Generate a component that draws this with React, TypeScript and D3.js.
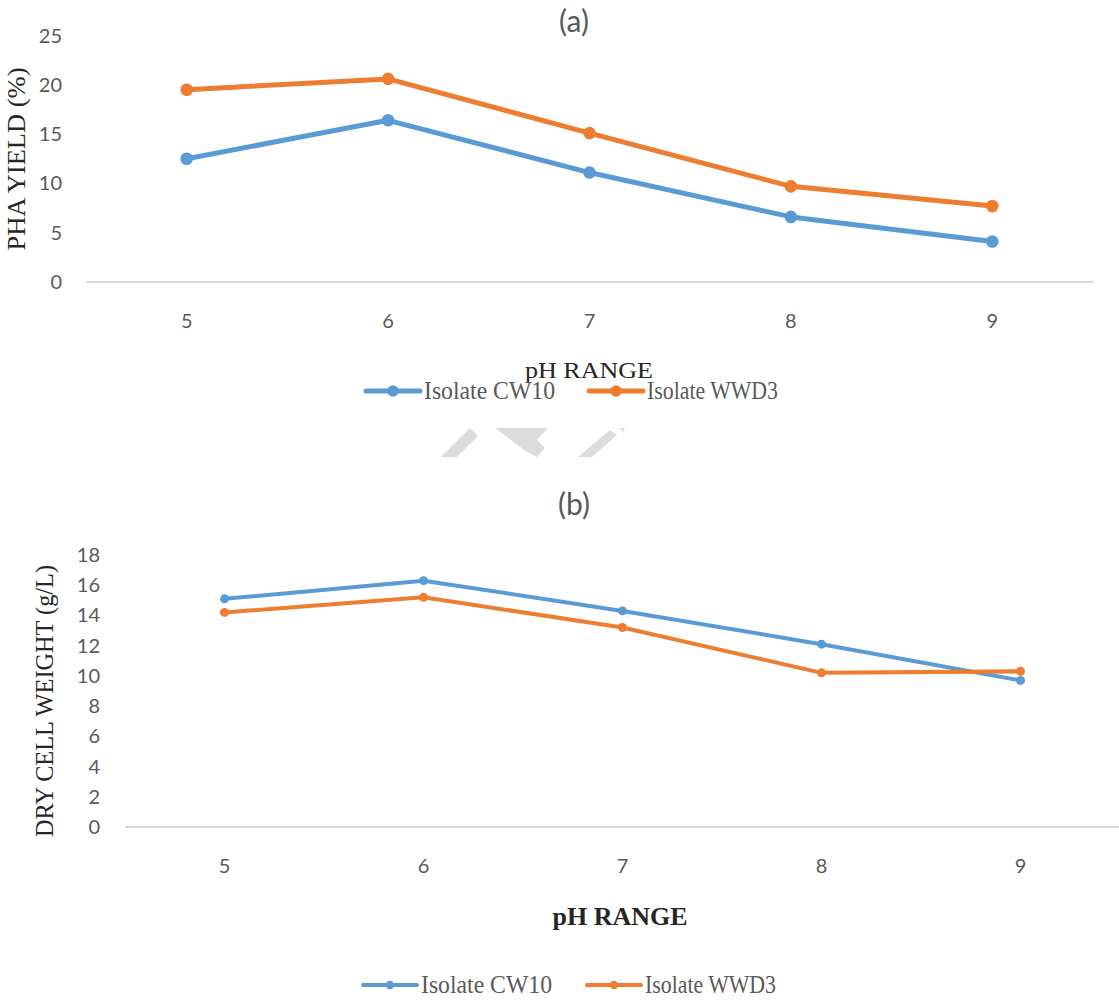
import React from "react";
import * as d3 from "d3";

const categories = ["5", "6", "7", "8", "9"];
const seriesNames = ["Isolate CW10", "Isolate WWD3"];
const phaCW10 = [12.5, 16.4, 11.1, 6.6, 4.1];
const phaWWD3 = [19.5, 20.6, 15.1, 9.7, 7.7];
const dcwCW10 = [15.1, 16.3, 14.3, 12.1, 9.7];
const dcwWWD3 = [14.2, 15.2, 13.2, 10.2, 10.3];
const phaTicks = [0, 5, 10, 15, 20, 25];
const dcwTicks = [0, 2, 4, 6, 8, 10, 12, 14, 16, 18];
const colors = ["#5B9BD5", "#ED7D31"];

const SANS = "Lato, 'Open Sans', sans-serif";
const SERIF = "'Liberation Serif', 'DejaVu Serif', serif";

type PanelProps = {
  title: string;
  titleY: number;
  xRange: [number, number];
  yDomain: [number, number];
  yRange: [number, number];
  ticks: number[];
  tickRight: number;
  xTickY: number;
  series: number[][];
  lineW: number;
  r: number;
  yLabel: string;
  yLabelX: number;
  yLabelY: number;
  yLabelLen: number;
  xLabel: string;
  xLabelY: number;
  xLabelX: number;
  xLabelLen: number;
  xLabelBold: boolean;
  legendY: number;
  legendXs: number[];
  legendR: number;
  legendW: number;
};

function Panel(p: PanelProps) {
  const x = d3.scaleBand<string>().domain(categories).range(p.xRange);
  const y = d3.scaleLinear().domain(p.yDomain).range(p.yRange);
  const cx = (c: string) => (x(c) as number) + x.bandwidth() / 2;
  const line = d3
    .line<number>()
    .x((_, i) => cx(categories[i]))
    .y((d) => y(d));
  return (
    <g>
      <text x={574} y={p.titleY} textAnchor="middle" fontFamily={SANS} fontWeight={400} fontSize={30} fill="#595959">
        {p.title}
      </text>
      {p.ticks.map((t) => (
        <text key={t} x={p.tickRight} y={y(t)} dy="0.35em" textAnchor="end" fontFamily={SANS} fontSize={20} fill="#595959">
          {t}
        </text>
      ))}
      <line x1={p.xRange[0]} x2={p.xRange[1]} y1={y(0)} y2={y(0)} stroke="#D9D9D9" strokeWidth={2} />
      {categories.map((c) => (
        <text key={c} x={cx(c)} y={p.xTickY} dy="0.35em" textAnchor="middle" fontFamily={SANS} fontSize={20} fill="#595959">
          {c}
        </text>
      ))}
      {p.series.map((s, si) => (
        <g key={si}>
          <path d={line(s) as string} fill="none" stroke={colors[si]} strokeWidth={p.lineW} strokeLinejoin="round" strokeLinecap="round" />
          {s.map((v, i) => (
            <circle key={i} cx={cx(categories[i])} cy={y(v)} r={p.r} fill={colors[si]} />
          ))}
        </g>
      ))}
      <text
        transform={`translate(${p.yLabelX},${p.yLabelY}) rotate(-90)`}
        textAnchor="middle"
        fontFamily={SERIF}
        fontSize={25}
        fill="#262626"
        textLength={p.yLabelLen}
        lengthAdjust="spacingAndGlyphs"
      >
        {p.yLabel}
      </text>
      <text
        x={p.xLabelX}
        y={p.xLabelY}
        textAnchor="middle"
        fontFamily={SERIF}
        fontSize={p.xLabelBold ? 26 : 24}
        fontWeight={p.xLabelBold ? "bold" : "normal"}
        fill="#262626"
        textLength={p.xLabelLen}
        lengthAdjust="spacingAndGlyphs"
      >
        {p.xLabel}
      </text>
      {seriesNames.map((n, i) => (
        <g key={n}>
          <line x1={p.legendXs[i]} x2={p.legendXs[i] + p.legendW} y1={p.legendY} y2={p.legendY} stroke={colors[i]} strokeWidth={p.lineW} strokeLinecap="round" />
          <circle cx={p.legendXs[i] + p.legendW / 2} cy={p.legendY} r={p.legendR} fill={colors[i]} />
          <text x={p.legendXs[i] + p.legendW + 4} y={p.legendY} dy="0.33em" fontFamily={SERIF} fontSize={25} fill="#595959" textLength={131} lengthAdjust="spacingAndGlyphs">
            {n}
          </text>
        </g>
      ))}
    </g>
  );
}

const watermark = [
  [[441, 457], [457, 457], [478, 436], [470, 428]],
  [[495, 428], [548, 428], [537, 440], [545, 448], [537, 457], [527, 452]],
  [[578, 457], [592, 457], [617, 435], [610, 430]],
  [[619, 428], [625, 428], [623, 432]],
];

export default function App() {
  return (
    <svg width={1119} height={1001} style={{ position: "absolute", left: 0, top: 0, background: "#fff" }}>
      <rect width={1119} height={1001} fill="#fff" />
      {watermark.map((pts, i) => (
        <polygon key={i} points={pts.map((q) => q.join(",")).join(" ")} fill="#DCDCDC" />
      ))}
      <Panel
        title="(a)"
        titleY={32}
        xRange={[86, 1093]}
        yDomain={[0, 25]}
        yRange={[282, 35.5]}
        ticks={phaTicks}
        tickRight={62}
        xTickY={321}
        series={[phaCW10, phaWWD3]}
        lineW={5}
        r={6.3}
        yLabel="PHA YIELD (%)"
        yLabelX={25}
        yLabelY={159}
        yLabelLen={183}
        xLabel="pH RANGE"
        xLabelX={589}
        xLabelY={378}
        xLabelLen={128}
        xLabelBold={false}
        legendY={391}
        legendXs={[366, 589]}
        legendR={5.8}
        legendW={54}
      />
      <Panel
        title="(b)"
        titleY={515}
        xRange={[125, 1120]}
        yDomain={[0, 18]}
        yRange={[827, 555]}
        ticks={dcwTicks}
        tickRight={100}
        xTickY={866}
        series={[dcwCW10, dcwWWD3]}
        lineW={4}
        r={4.5}
        yLabel="DRY CELL WEIGHT (g/L)"
        yLabelX={53}
        yLabelY={701}
        yLabelLen={272}
        xLabel="pH RANGE"
        xLabelX={620}
        xLabelY={925}
        xLabelLen={135}
        xLabelBold={true}
        legendY={985}
        legendXs={[363, 587]}
        legendR={4.2}
        legendW={54}
      />
    </svg>
  );
}
